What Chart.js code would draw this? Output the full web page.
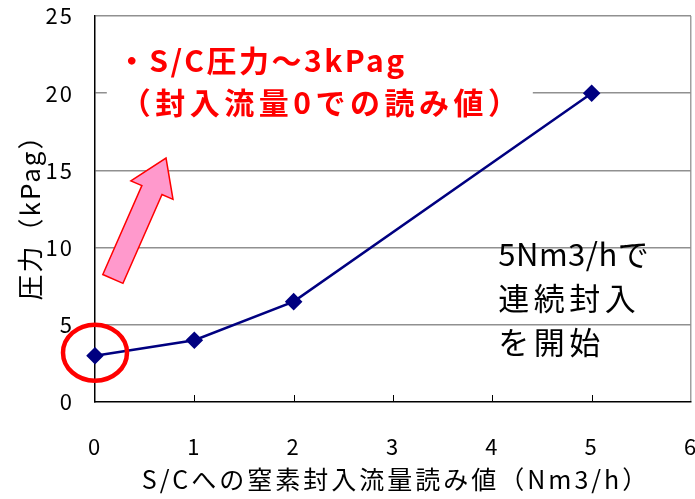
<!DOCTYPE html>
<html>
<head>
<meta charset="utf-8">
<script src="https://cdn.jsdelivr.net/npm/chart.js@4.4.1/dist/chart.umd.min.js"></script>
<style>
  html, body { margin: 0; padding: 0; background: #fff; }
  #wrap { width: 695px; height: 499px; }
</style>
</head>
<body>
<div id="wrap"><canvas id="c" width="695" height="499"></canvas></div>
<script>
// data
const flowRates = [0, 1, 2, 5];          // Nm3/h
const pressures = [3, 4, 6.5, 20];       // kPag
const xTicks = [0, 1, 2, 3, 4, 5, 6];
const yTicks = [0, 5, 10, 15, 20, 25];

const xTitle = 'S/Cへの窒素封入流量読み値（Nm3/h）';
const yTitle = '圧力（kPag）';
const noteRed = ['・S/C圧力～3kPag', '（封入流量0での読み値）'];
const noteBlack = ['5Nm3/hで', '連続封入', 'を開始'];

const FONT = '"Noto Sans CJK JP", "Noto Sans", sans-serif';

// inner x ticks, notes, arrow, ellipse, axis titles
const notes = {
  id: 'notes',
  beforeDraw(chart) {
    chart.ctx.letterSpacing = '2px';
  },
  beforeDatasetsDraw(chart) {
    const { ctx, scales: { x, y } } = chart;
    ctx.save();
    // inner tick marks on x axis
    ctx.strokeStyle = '#000';
    ctx.lineWidth = 1;
    xTicks.forEach(v => {
      if (v === 0 || v === 6) return;
      const px = Math.round(x.getPixelForValue(v)) + 0.5;
      ctx.beginPath();
      ctx.moveTo(px, y.bottom);
      ctx.lineTo(px, y.bottom - 7);
      ctx.stroke();
    });
    // white box behind red note
    const tx = x.getPixelForValue(0.28);
    const l1 = y.getPixelForValue(22.0);
    const l2 = y.getPixelForValue(19.35);
    ctx.fillStyle = '#fff';
    ctx.fillRect(tx - 16, l1 - 26, 426, l2 - l1 + 50);
    ctx.restore();
  },
  afterDatasetsDraw(chart) {
    const { ctx, chartArea, scales: { x, y } } = chart;
    ctx.save();
    ctx.textBaseline = 'middle';

    // axis titles
    ctx.fillStyle = '#000';
    ctx.textAlign = 'center';
    ctx.font = '25px ' + FONT;
    ctx.letterSpacing = '3px';
    ctx.fillText(xTitle, (chartArea.left + chartArea.right) / 2 + 3, chartArea.bottom + 77);
    ctx.save();
    ctx.translate(30, (chartArea.top + chartArea.bottom) / 2 + 2);
    ctx.rotate(-Math.PI / 2);
    ctx.font = '26px ' + FONT;
    ctx.letterSpacing = '2px';
    ctx.fillText(yTitle, 0, 0);
    ctx.restore();

    // red note
    ctx.textAlign = 'left';
    ctx.fillStyle = '#ff0000';
    ctx.font = 'bold 30px ' + FONT;
    const tx = x.getPixelForValue(0.28);
    ctx.letterSpacing = '2.5px';
    ctx.fillText(noteRed[0], tx - 6, y.getPixelForValue(22.1));
    ctx.letterSpacing = '4.5px';
    ctx.fillText(noteRed[1], tx - 2, y.getPixelForValue(19.4));

    // black note
    ctx.fillStyle = '#000';
    ctx.font = '31px ' + FONT;
    const bx = x.getPixelForValue(4.06);
    ctx.letterSpacing = '0.5px';
    ctx.fillText(noteBlack[0], bx, y.getPixelForValue(9.6));
    ctx.letterSpacing = '4.5px';
    ctx.fillText(noteBlack[1], bx, y.getPixelForValue(6.7));
    ctx.fillText(noteBlack[2], bx, y.getPixelForValue(3.9));
    ctx.letterSpacing = '0px';

    // pink arrow
    const x0 = x.getPixelForValue(0.18), y0 = y.getPixelForValue(7.97);
    const x1 = x.getPixelForValue(0.715), y1 = y.getPixelForValue(15.8);
    const ang = Math.atan2(y1 - y0, x1 - x0);
    const len = Math.hypot(x1 - x0, y1 - y0);
    const shaft = 11, head = 23, headLen = 35;
    ctx.translate(x0, y0);
    ctx.rotate(ang);
    ctx.beginPath();
    ctx.moveTo(0, -shaft);
    ctx.lineTo(len - headLen, -shaft);
    ctx.lineTo(len - headLen, -head);
    ctx.lineTo(len, 0);
    ctx.lineTo(len - headLen, head);
    ctx.lineTo(len - headLen, shaft);
    ctx.lineTo(0, shaft);
    ctx.closePath();
    ctx.fillStyle = '#ff99cc';
    ctx.fill();
    ctx.strokeStyle = '#ff0000';
    ctx.lineWidth = 1.5;
    ctx.stroke();
    ctx.setTransform(1, 0, 0, 1, 0, 0);

    // red ellipse round the first point
    ctx.beginPath();
    ctx.ellipse(x.getPixelForValue(flowRates[0]), y.getPixelForValue(pressures[0]) - 3, 32, 28, 0, 0, Math.PI * 2);
    ctx.strokeStyle = '#ff0000';
    ctx.lineWidth = 4.5;
    ctx.stroke();

    ctx.restore();
  }
};

new Chart(document.getElementById('c'), {
  type: 'line',
  data: {
    datasets: [{
      data: flowRates.map((v, i) => ({ x: v, y: pressures[i] })),
      borderColor: '#000080',
      backgroundColor: '#000080',
      borderWidth: 2.5,
      pointStyle: 'rectRot',
      pointRadius: 7,
      pointHoverRadius: 7,
      tension: 0,
      clip: false
    }]
  },
  options: {
    responsive: false,
    animation: false,
    devicePixelRatio: 1,
    layout: { autoPadding: false, padding: { top: 16, right: 4, left: 0, bottom: 0 } },
    plugins: {
      legend: { display: false },
      tooltip: { enabled: false }
    },
    scales: {
      x: {
        type: 'linear',
        min: 0, max: 6,
        afterFit(s) { s.height = 97; s.paddingRight = 0; s.paddingLeft = 0; },
        afterBuildTicks(s) { s.ticks = xTicks.map(v => ({ value: v })); },
        ticks: { color: '#000', font: { family: FONT, size: 22 }, padding: 31, maxRotation: 0 },
        grid: {
          drawTicks: false,
          color: c => c.tick && c.tick.value === 6 ? '#a0a0a0' : 'rgba(0,0,0,0)',
          lineWidth: 1.5
        },
        border: { color: '#000', width: 1.5 }
      },
      y: {
        min: 0, max: 25,
        afterFit(s) { s.width = 95; s.paddingTop = 0; s.paddingBottom = 0; },
        afterBuildTicks(s) { s.ticks = yTicks.map(v => ({ value: v })); },
        ticks: { color: '#000', font: { family: FONT, size: 22 }, padding: 21 },
        grid: {
          drawTicks: false,
          color: c => c.tick && c.tick.value === 0 ? 'rgba(0,0,0,0)' : '#909090',
          lineWidth: 1.5
        },
        border: { color: '#000', width: 1.5 }
      }
    }
  },
  plugins: [notes]
});
</script>
</body>
</html>
